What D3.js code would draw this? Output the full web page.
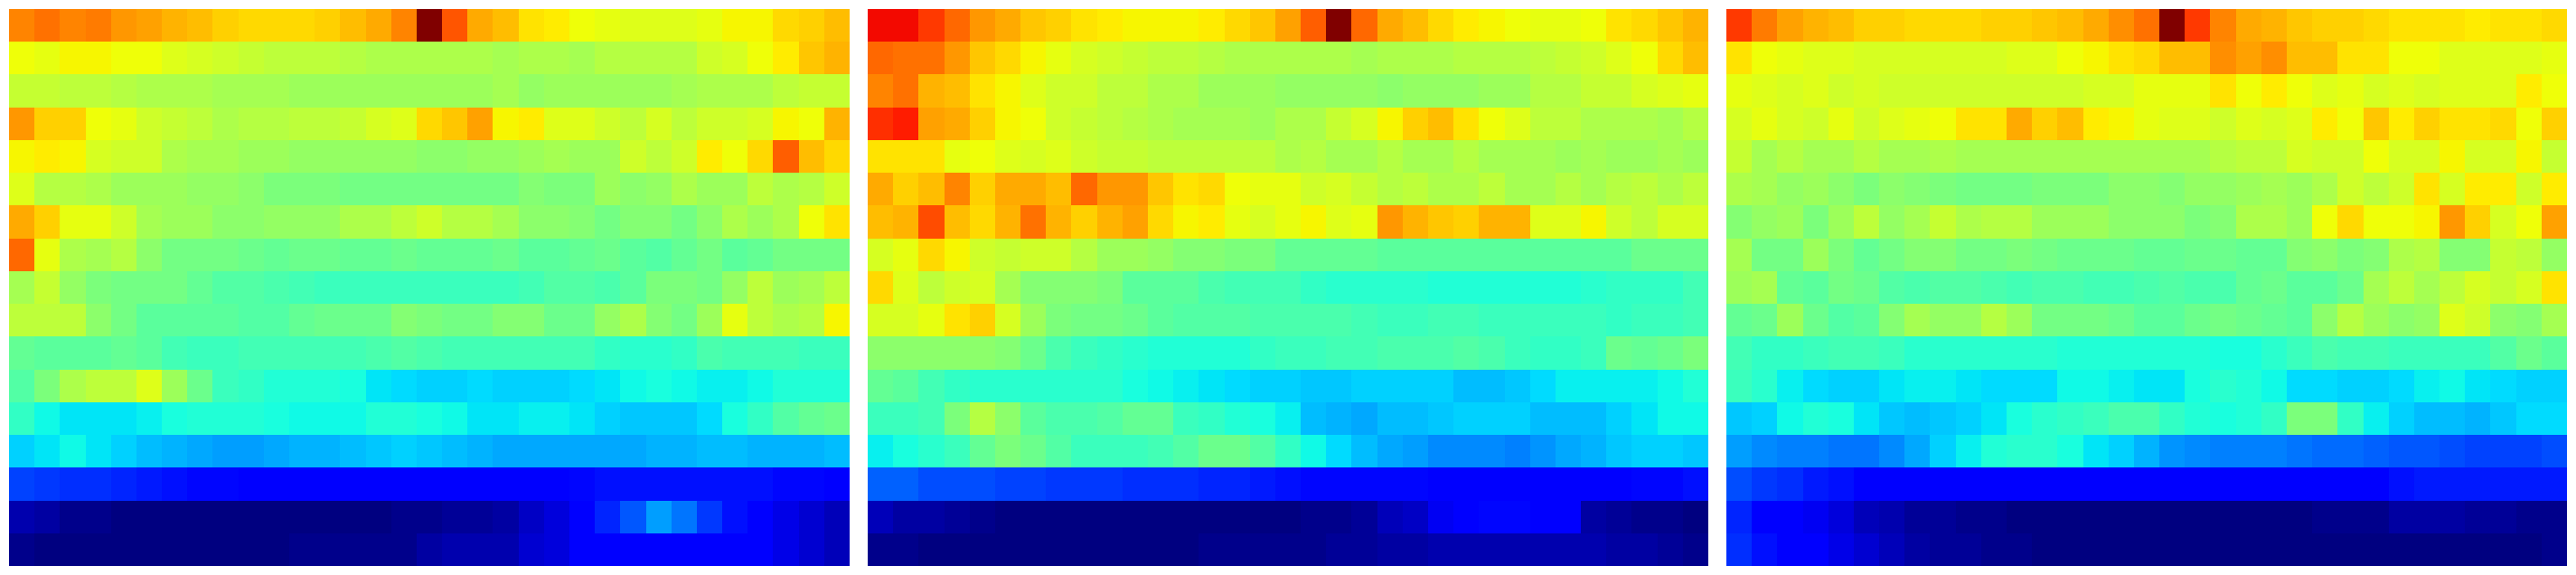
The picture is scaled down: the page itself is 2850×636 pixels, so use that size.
<!DOCTYPE html>
<html><head><meta charset="utf-8">
<style>html,body{margin:0;padding:0;background:#fff;overflow:hidden}svg{display:block}</style>
<script src="https://cdnjs.cloudflare.com/ajax/libs/d3/7.8.5/d3.min.js"></script>
</head><body><svg id="c"></svg>
<script>
const panelLeft = [
[77,79,77,78,75,74,72,71,69,68,68,68,69,71,73,77,100,82,73,71,67,66,64,63,62,62,62,63,65,65,68,69,71],
[64,63,65,65,64,64,62,61,60,59,58,58,58,57,56,56,56,56,56,55,56,56,55,57,57,57,57,60,61,64,66,70,72],
[59,59,58,58,57,56,56,56,55,55,55,54,54,54,54,54,54,54,54,55,53,54,54,54,54,54,55,56,56,56,58,59,59],
[75,69,69,64,63,60,59,58,56,57,57,58,58,59,61,62,68,70,74,65,66,62,62,60,58,61,58,60,60,61,65,64,72],
[65,66,65,61,60,60,56,55,55,54,54,53,53,53,53,53,52,52,53,53,54,55,54,54,60,58,60,66,64,68,81,71,68],
[62,57,57,56,54,54,54,53,53,52,50,50,50,49,49,49,49,49,49,49,51,50,50,54,52,53,56,54,54,58,56,57,60],
[73,69,63,63,60,55,54,54,52,52,53,53,53,56,56,58,60,57,57,55,52,52,51,49,51,51,49,52,56,54,56,64,67],
[80,63,56,55,57,52,49,49,49,48,47,48,48,47,47,48,47,47,47,48,46,46,47,48,46,45,47,49,46,47,49,49,49],
[55,59,53,50,49,49,49,47,45,45,44,43,42,42,42,42,42,42,42,42,43,45,45,44,46,50,50,49,53,58,54,55,58],
[58,58,58,52,49,46,46,46,46,45,45,47,48,48,48,51,50,49,49,51,51,48,48,53,56,51,49,54,63,58,56,57,65],
[47,46,46,46,47,46,43,42,42,43,43,43,43,43,44,45,44,43,43,43,43,43,43,41,40,40,41,44,43,43,43,42,42],
[45,50,56,58,58,62,54,48,42,41,39,39,39,38,35,34,33,33,34,33,33,33,34,35,37,38,37,36,36,37,39,39,39],
[41,37,35,35,35,36,38,39,39,39,38,37,37,37,39,39,38,37,35,35,36,36,35,33,32,32,32,34,38,41,45,47,48],
[33,35,37,35,33,31,30,29,28,28,29,30,30,31,32,33,32,31,30,29,29,29,29,29,29,30,30,31,31,30,30,30,31],
[19,18,17,17,16,15,14,13,13,12,12,12,12,12,12,12,12,12,12,12,12,12,13,14,14,14,14,14,14,14,13,13,12],
[4,3,1,1,0,0,0,0,0,0,0,0,0,0,0,1,1,2,2,3,6,8,11,16,21,28,24,18,14,11,9,7,5],
[1,0,0,0,0,0,0,0,0,0,0,1,1,1,1,1,3,4,4,4,7,8,11,11,11,11,11,11,11,11,9,7,5]
];
const panelMiddle = [
[90,90,85,80,75,73,70,69,67,66,65,65,65,66,68,70,74,81,100,80,73,71,68,66,65,64,63,63,64,67,68,70,72],
[80,79,79,75,70,68,65,63,61,60,59,58,58,57,56,56,56,56,56,55,56,56,56,57,57,57,58,59,60,62,64,68,71],
[77,79,72,71,67,65,62,60,60,58,58,56,56,54,54,54,53,53,53,53,52,53,53,53,54,54,57,57,59,59,61,62,63],
[86,88,74,73,69,65,64,60,59,58,57,56,55,55,55,54,56,56,59,61,65,69,71,67,64,62,58,58,56,56,56,55,57],
[67,67,67,63,64,62,61,62,60,59,59,58,58,58,58,58,56,57,55,55,57,55,55,57,55,55,55,54,55,54,54,55,54],
[73,69,71,77,69,73,73,71,80,75,75,70,67,68,64,63,63,60,61,59,57,58,56,56,58,55,55,57,55,57,58,56,58],
[71,72,83,71,68,72,79,72,69,72,74,68,65,66,63,61,63,65,62,63,75,72,70,69,72,72,62,62,65,60,58,61,61],
[61,63,68,65,60,59,60,60,57,54,54,53,51,51,50,50,47,47,47,47,46,46,46,46,46,46,46,46,46,46,48,48,48],
[68,62,58,60,61,55,51,51,51,50,46,46,46,44,43,43,43,41,40,40,40,40,39,39,39,39,39,39,40,41,41,41,43],
[61,61,63,67,69,61,54,50,49,49,48,46,45,45,45,44,44,44,44,43,42,42,43,43,42,42,42,42,42,41,42,42,43],
[52,52,52,52,52,51,48,44,42,41,40,39,39,39,39,41,42,42,43,43,44,44,44,45,44,42,41,41,42,48,47,48,50],
[47,46,43,41,40,40,40,40,40,40,38,37,36,35,34,33,33,32,32,33,33,33,33,31,31,32,34,36,36,36,36,37,39],
[42,42,43,50,57,52,46,44,44,45,47,47,42,41,39,38,36,31,30,29,31,31,32,33,33,33,31,31,31,33,35,37,37],
[36,38,40,42,47,50,48,45,42,42,42,43,45,48,48,45,41,37,34,31,29,28,26,26,26,25,27,29,30,32,33,33,32],
[22,22,20,20,20,19,19,18,18,18,17,17,17,16,16,15,14,13,13,13,13,13,12,12,12,12,12,12,12,12,13,13,14],
[5,3,3,2,1,0,0,0,0,0,0,0,0,0,0,0,0,1,1,2,5,6,10,11,13,13,11,11,3,2,1,1,0],
[1,1,0,0,0,0,0,0,0,0,0,0,0,1,1,1,1,1,2,2,3,3,4,4,4,4,4,4,4,3,3,2,1]
];
const panelRight = [
[85,78,74,72,71,69,69,68,68,68,69,69,70,71,73,76,79,100,85,77,73,72,70,69,69,68,67,67,67,66,67,67,68],
[67,64,63,62,62,61,61,61,61,61,61,62,62,64,65,67,68,71,71,76,74,76,71,71,67,67,64,64,62,62,62,62,63],
[63,62,61,62,60,61,60,60,60,60,60,60,60,60,61,61,63,63,63,67,64,66,64,62,63,61,62,61,62,62,62,66,64],
[61,63,61,60,63,60,62,63,64,67,67,73,69,71,66,65,63,62,62,60,62,61,62,66,64,70,66,69,67,67,68,64,69],
[59,55,57,55,55,57,55,55,56,55,55,55,55,55,55,55,55,55,55,57,58,58,61,60,60,64,61,61,65,61,61,65,59],
[56,55,53,54,52,50,52,51,50,49,49,49,50,50,50,52,52,51,53,53,54,55,54,56,60,58,60,67,61,66,66,60,66],
[51,53,54,50,54,58,53,55,59,56,57,57,54,54,54,52,52,52,50,51,56,56,54,64,68,64,64,65,75,69,61,64,74],
[55,49,49,54,50,47,49,51,51,49,49,50,49,48,48,48,47,47,48,48,47,47,51,52,50,51,56,57,51,51,59,58,53],
[54,55,47,46,49,48,45,44,45,45,44,43,44,44,43,43,44,45,44,44,47,48,46,46,48,55,58,55,58,61,59,61,67],
[47,48,54,48,45,46,51,55,53,53,57,54,49,49,49,48,46,46,48,49,48,47,46,52,57,54,52,53,62,60,52,51,55],
[43,41,41,42,43,43,42,40,40,40,40,40,40,39,39,39,39,39,39,38,38,40,42,44,43,43,42,42,42,42,45,48,46],
[42,40,36,34,33,33,35,36,36,35,34,34,34,37,37,36,35,35,38,40,39,37,34,34,33,33,34,36,37,35,34,33,33],
[32,33,37,39,38,35,32,31,32,33,35,38,40,41,42,44,44,41,39,38,39,41,50,50,41,36,33,31,31,30,32,34,34],
[28,26,25,25,24,24,26,29,33,36,39,40,40,38,35,33,30,27,26,25,25,25,24,23,23,22,21,21,20,19,19,19,20],
[20,18,17,15,14,12,12,12,12,12,12,12,12,12,12,12,12,12,12,12,12,12,12,12,12,12,14,15,15,15,15,15,15],
[16,12,11,10,8,5,4,2,2,1,1,0,0,0,0,0,0,0,0,0,0,0,0,1,1,1,3,3,3,2,2,1,1],
[17,14,11,11,9,7,5,3,2,2,1,1,0,0,0,0,0,0,0,0,0,0,0,0,0,0,0,0,0,0,0,0,1]
];
const panels = [panelLeft, panelMiddle, panelRight];

const W = 2850, H = 636;
const jetRed   = d3.scaleLinear().domain([0,.35,.66,.89,1]).range([0,0,1,1,.5]);
const jetGreen = d3.scaleLinear().domain([0,.125,.375,.64,.91,1]).range([0,0,1,1,0,0]);
const jetBlue  = d3.scaleLinear().domain([0,.11,.34,.65,1]).range([.5,1,1,0,0]);
const jet = pct => { const v = pct/100; return d3.rgb(jetRed(v)*255, jetGreen(v)*255, jetBlue(v)*255).formatRgb(); };

const outer = d3.scaleBand().domain(d3.range(panels.length)).range([10,2840]).paddingInner(20/950);
const y = d3.scaleBand().domain(d3.range(panelLeft.length)).range([10,626]);

const svg = d3.select('#c').attr('width',W).attr('height',H);
svg.selectAll('g.panel').data(panels).join('g').attr('class','panel').each(function(rows,p){
  const x = d3.scaleBand().domain(d3.range(rows[0].length)).range([outer(p), outer(p)+outer.bandwidth()]);
  const cells = rows.flatMap((r,ri)=>r.map((v,ci)=>({ri,ci,v})));
  d3.select(this).selectAll('rect').data(cells).join('rect')
    .attr('x',d=>x(d.ci)).attr('y',d=>y(d.ri))
    .attr('width',x.bandwidth()).attr('height',y.bandwidth())
    .attr('fill',d=>jet(d.v)).attr('shape-rendering','crispEdges');
});
</script></body></html>
